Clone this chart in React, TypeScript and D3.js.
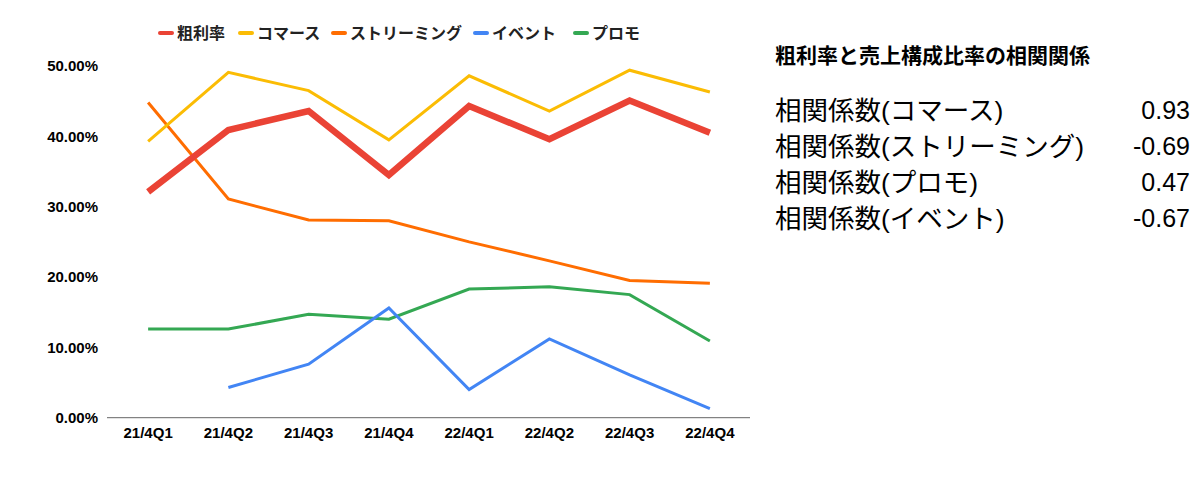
import { useRef, useEffect } from 'react';
import * as d3 from 'd3';

const quarters = ['21/4Q1', '21/4Q2', '21/4Q3', '21/4Q4', '22/4Q1', '22/4Q2', '22/4Q3', '22/4Q4'];
const grossMargin = [32.1, 40.9, 43.6, 34.5, 44.3, 39.6, 45.1, 40.5];
const commerce = [39.3, 49.1, 46.5, 39.5, 48.6, 43.6, 49.4, 46.3];
const streaming = [44.8, 31.1, 28.1, 28.0, 25.0, 22.3, 19.5, 19.1];
const events = [null, 4.3, 7.6, 15.6, 4.0, 11.2, 6.1, 1.3];
const promo = [12.6, 12.6, 14.7, 14.0, 18.3, 18.6, 17.5, 10.9];
const yTicks = [0, 10, 20, 30, 40, 50];

const panelTitle = '粗利率と売上構成比率の相関関係';
const corrLabels = ['相関係数(コマース)', '相関係数(ストリーミング)', '相関係数(プロモ)', '相関係数(イベント)'];
const corrValues = ['0.93', '-0.69', '0.47', '-0.67'];

const LATIN = '"Liberation Sans", Arial, "Noto Sans CJK JP", sans-serif';

const App = () => {
    const ref = useRef<SVGSVGElement>(null);

    useEffect(() => {
        const width = 1200;
        const height = 479;
        const svg = d3.select(ref.current);
        svg.selectAll('*').remove();
        svg.attr('width', width).attr('height', height).attr('viewBox', [0, 0, width, height]);

        const series = [
            { name: '粗利率', color: '#ea4335', values: grossMargin, w: 6.5 },
            { name: 'コマース', color: '#fbbc04', values: commerce, w: 3 },
            { name: 'ストリーミング', color: '#ff6d01', values: streaming, w: 3 },
            { name: 'イベント', color: '#4285f4', values: events, w: 3 },
            { name: 'プロモ', color: '#34a853', values: promo, w: 3 },
        ];

        const x: any = d3.scaleBand()
            .domain(quarters)
            .range([108, 750]);
        const y = d3.scaleLinear()
            .domain([0, 50])
            .range([417.7, 66]);

        // y axis labels
        svg.append('g')
            .selectAll('text')
            .data(yTicks)
            .enter().append('text')
            .attr('x', 98)
            .attr('y', (d: number) => y(d))
            .attr('dy', '0.36em')
            .attr('text-anchor', 'end')
            .style('font', `bold 15px ${LATIN}`)
            .attr('fill', '#000')
            .text((d: number) => d.toFixed(2) + '%');

        // baseline
        svg.append('line')
            .attr('x1', 107).attr('x2', 750)
            .attr('y1', y(0)).attr('y2', y(0))
            .attr('stroke', '#666').attr('stroke-width', 1);

        // x labels
        svg.append('g')
            .selectAll('text')
            .data(quarters)
            .enter().append('text')
            .attr('x', (d: string) => x(d) + x.bandwidth() / 2)
            .attr('y', 433)
            .attr('dy', '0.36em')
            .attr('text-anchor', 'middle')
            .style('font', `bold 15px ${LATIN}`)
            .attr('fill', '#000')
            .text((d: string) => d);

        const line = d3.line<any>()
            .defined((d: any) => d != null)
            .x((_d: any, i: number) => x(quarters[i]) + x.bandwidth() / 2)
            .y((d: any) => y(d));

        // draw lines back to front, red on top
        [...series].reverse().forEach((s) => {
            svg.append('path')
                .attr('d', line(s.values as any))
                .attr('fill', 'none')
                .attr('stroke', s.color)
                .attr('stroke-width', s.w)
                .attr('stroke-linejoin', 'miter');
        });

        // legend
        const legendX = [160, 240, 333, 475, 575];
        const legend = svg.append('g');
        series.forEach((s, i) => {
            legend.append('line')
                .attr('x1', legendX[i]).attr('x2', legendX[i] + 12)
                .attr('y1', 33).attr('y2', 33)
                .attr('stroke', s.color).attr('stroke-width', 4)
                .attr('stroke-linecap', 'round');
            legend.append('text')
                .attr('x', legendX[i] + 17)
                .attr('y', 33)
                .attr('dy', '0.36em')
                .style('font', `bold 16px "Noto Sans CJK JP", sans-serif`)
                .attr('fill', '#222')
                .text(s.name);
        });

        // correlation panel
        svg.append('text')
            .attr('x', 775).attr('y', 55)
            .attr('dy', '0.36em')
            .style('font', `bold 21px "Noto Sans CJK JP", sans-serif`)
            .attr('fill', '#000')
            .text(panelTitle);

        const rowY = d3.scalePoint<string>()
            .domain(corrLabels)
            .range([110, 218]);
        const rows = svg.append('g');
        rows.selectAll('text.lbl')
            .data(corrLabels)
            .enter().append('text')
            .attr('class', 'lbl')
            .attr('x', 775)
            .attr('y', (d: string) => rowY(d) as number)
            .attr('dy', '0.36em')
            .style('font', `26.5px ${LATIN}`)
            .attr('fill', '#000')
            .text((d: string) => d);
        rows.selectAll('text.val')
            .data(corrValues)
            .enter().append('text')
            .attr('class', 'val')
            .attr('x', 1190)
            .attr('y', (_d: string, i: number) => rowY(corrLabels[i]) as number)
            .attr('dy', '0.36em')
            .attr('text-anchor', 'end')
            .style('font', `25px ${LATIN}`)
            .attr('fill', '#000')
            .text((d: string) => d);
    }, []);

    return (
        <div style={{ position: 'absolute', left: 0, top: 0, background: '#fff' }}>
            <svg ref={ref}></svg>
        </div>
    );
};

export default App;
